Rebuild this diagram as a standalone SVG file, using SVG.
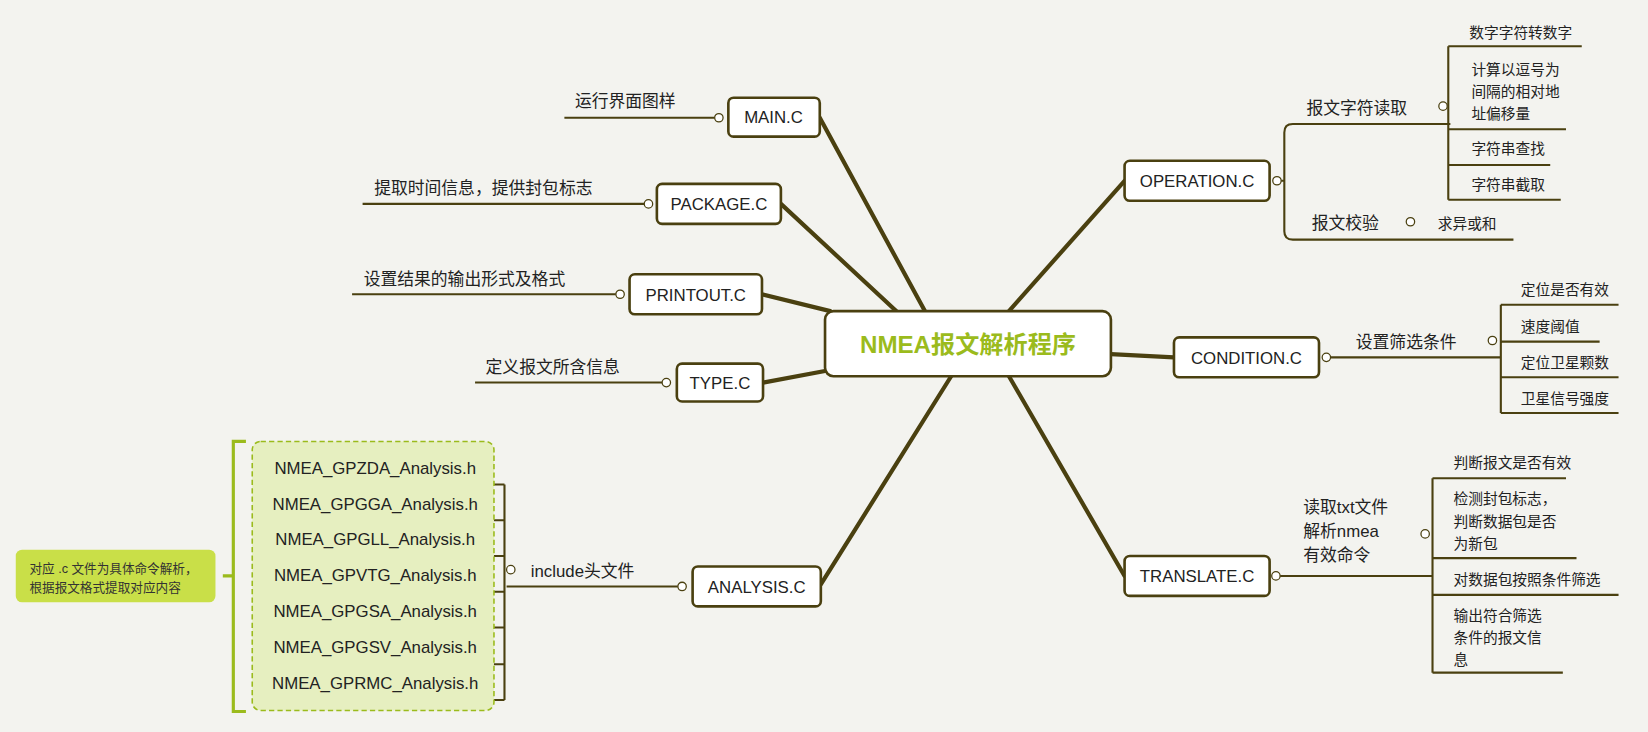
<svg xmlns="http://www.w3.org/2000/svg" width="1648" height="732" viewBox="0 0 1648 732">
<style>
.n{fill:#fff;stroke:#4a4010;stroke-width:2.5}
.nt{font-family:"Liberation Sans","Noto Sans CJK SC",sans-serif;font-size:16px;fill:#222;text-anchor:middle}
.t{font-family:"Liberation Sans","Noto Sans CJK SC",sans-serif;font-size:16px;fill:#222}
.s{font-family:"Liberation Sans","Noto Sans CJK SC",sans-serif;font-size:14px;fill:#222}
.l{stroke:#4a4010;stroke-width:2;fill:none}
.b{stroke:#4a4010;stroke-width:4;stroke-linecap:round}
.c{fill:#fff;stroke:#4a4010;stroke-width:1.2}
</style>
<rect width="1648" height="732" fill="#f3f3ef"/>
<g transform="scale(1.051)">
<g id="connectors">
<line class="b" x1="880" y1="296" x2="780" y2="112"/>
<line class="b" x1="855" y1="298" x2="743" y2="194"/>
<line class="b" x1="790" y1="296" x2="725" y2="280"/>
<line class="b" x1="790" y1="352" x2="726" y2="364"/>
<line class="b" x1="905" y1="358" x2="781" y2="556"/>
<line class="b" x1="960" y1="296" x2="1070" y2="172"/>
<line class="b" x1="1057" y1="337" x2="1117" y2="340"/>
<line class="b" x1="960" y1="358" x2="1070" y2="548"/>
<path class="l" d="M537 112H680M345 194H613M335 280H586M452 364H630M482 558H645"/>
<path class="l" d="M255 461H480M255 495H480M255 529H480M255 563H480M255 597H480M255 632H480M255 666H480M480 461V666"/>
<path class="l" d="M1219 172H1222M1230 118Q1222 118 1222 126V220Q1222 228 1230 228M1230 118H1380M1230 228H1440M1378 44V190M1378 44H1505M1378 123H1490M1378 157H1475M1378 190H1485"/>
<path class="l" d="M1266 340H1428M1428 290V393M1428 290H1540M1428 325H1522M1428 359H1540M1428 393H1540"/>
<path class="l" d="M1218 548H1363M1363 455V640M1363 455H1490M1363 531H1500M1363 566H1540M1363 640H1487"/>
<circle class="c" cx="684" cy="112" r="4"/><circle class="c" cx="617" cy="194" r="4"/>
<circle class="c" cx="590" cy="280" r="4"/><circle class="c" cx="634" cy="364" r="4"/>
<circle class="c" cx="649" cy="558" r="4"/><circle class="c" cx="486" cy="542" r="4"/>
<circle class="c" cx="1215" cy="172" r="4"/><circle class="c" cx="1373" cy="101" r="4"/><circle class="c" cx="1342" cy="211" r="4"/>
<circle class="c" cx="1262" cy="340" r="4"/><circle class="c" cx="1420" cy="324" r="4"/>
<circle class="c" cx="1214" cy="548" r="4"/><circle class="c" cx="1356" cy="508" r="4"/>
</g>
<g id="center"><rect class="n" x="785" y="296" width="272" height="62" rx="8" stroke-width="3"/>
<text x="921" y="336" text-anchor="middle" font-family="Liberation Sans,Noto Sans CJK SC,sans-serif" font-size="23" font-weight="bold" fill="#9bbb1c">NMEA报文解析程序</text></g>
<g id="main"><rect class="n" x="693" y="93" width="87" height="37" rx="5"/><text class="nt" x="736" y="117">MAIN.C</text><text class="t" x="547" y="102">运行界面图样</text></g>
<g id="package"><rect class="n" x="625" y="175" width="118" height="38" rx="5"/><text class="nt" x="684" y="200">PACKAGE.C</text><text class="t" x="356" y="185">提取时间信息，提供封包标志</text></g>
<g id="printout"><rect class="n" x="599" y="261" width="126" height="38" rx="5"/><text class="nt" x="662" y="286">PRINTOUT.C</text><text class="t" x="346" y="271">设置结果的输出形式及格式</text></g>
<g id="type"><rect class="n" x="644" y="346" width="82" height="36" rx="5"/><text class="nt" x="685" y="370">TYPE.C</text><text class="t" x="462" y="355">定义报文所含信息</text></g>
<g id="analysis"><rect class="n" x="659" y="539" width="122" height="38" rx="5"/><text class="nt" x="720" y="564">ANALYSIS.C</text><text class="t" x="505" y="549">include头文件</text></g>
<g id="headers">
<rect x="240" y="420" width="230" height="256" rx="8" fill="#e6efc0" stroke="#9bbb1c" stroke-width="1.5" stroke-dasharray="5,3"/>
<g class="nt" font-size="15"><text class="nt" x="357" y="451">NMEA_GPZDA_Analysis.h</text><text class="nt" x="357" y="485">NMEA_GPGGA_Analysis.h</text><text class="nt" x="357" y="519">NMEA_GPGLL_Analysis.h</text><text class="nt" x="357" y="553">NMEA_GPVTG_Analysis.h</text><text class="nt" x="357" y="587">NMEA_GPGSA_Analysis.h</text><text class="nt" x="357" y="621">NMEA_GPGSV_Analysis.h</text><text class="nt" x="357" y="656">NMEA_GPRMC_Analysis.h</text></g>
<path d="M234 420H222V677H234M222 548H212" stroke="#9bbb1c" stroke-width="3" fill="none"/>
<rect x="15" y="523" width="190" height="50" rx="6" fill="#c9df48"/>
<text x="28" y="545" font-family="Liberation Sans,Noto Sans CJK SC,sans-serif" font-size="12" fill="#333">对应 .c 文件为具体命令解析，</text>
<text x="28" y="563" font-family="Liberation Sans,Noto Sans CJK SC,sans-serif" font-size="12" fill="#333">根据报文格式提取对应内容</text>
</g>
<g id="operation"><rect class="n" x="1070" y="153" width="138" height="38" rx="5"/><text class="nt" x="1139" y="178">OPERATION.C</text>
<text class="t" x="1243" y="108">报文字符读取</text><text class="t" x="1248" y="218">报文校验</text><text class="s" x="1368" y="218">求异或和</text>
<text class="s" x="1398" y="36">数字字符转数字</text><text class="s" x="1400" y="71">计算以逗号为</text><text class="s" x="1400" y="92">间隔的相对地</text><text class="s" x="1400" y="113">址偏移量</text>
<text class="s" x="1400" y="147">字符串查找</text><text class="s" x="1400" y="181">字符串截取</text></g>
<g id="condition"><rect class="n" x="1117" y="321" width="138" height="38" rx="5"/><text class="nt" x="1186" y="346">CONDITION.C</text>
<text class="t" x="1290" y="331">设置筛选条件</text><text class="s" x="1447" y="281">定位是否有效</text><text class="s" x="1447" y="316">速度阈值</text><text class="s" x="1447" y="350">定位卫星颗数</text><text class="s" x="1447" y="384">卫星信号强度</text></g>
<g id="translate"><rect class="n" x="1070" y="529" width="138" height="38" rx="5"/><text class="nt" x="1139" y="554">TRANSLATE.C</text>
<text class="t" x="1240" y="488" font-size="17">读取txt文件</text><text class="t" x="1240" y="511" font-size="17">解析nmea</text><text class="t" x="1240" y="534" font-size="17">有效命令</text>
<text class="s" x="1383" y="445">判断报文是否有效</text><text class="s" x="1383" y="480">检测封包标志，</text><text class="s" x="1383" y="501">判断数据包是否</text><text class="s" x="1383" y="522">为新包</text>
<text class="s" x="1383" y="557">对数据包按照条件筛选</text><text class="s" x="1383" y="591">输出符合筛选</text><text class="s" x="1383" y="612">条件的报文信</text><text class="s" x="1383" y="633">息</text></g>
</g>
</svg>
